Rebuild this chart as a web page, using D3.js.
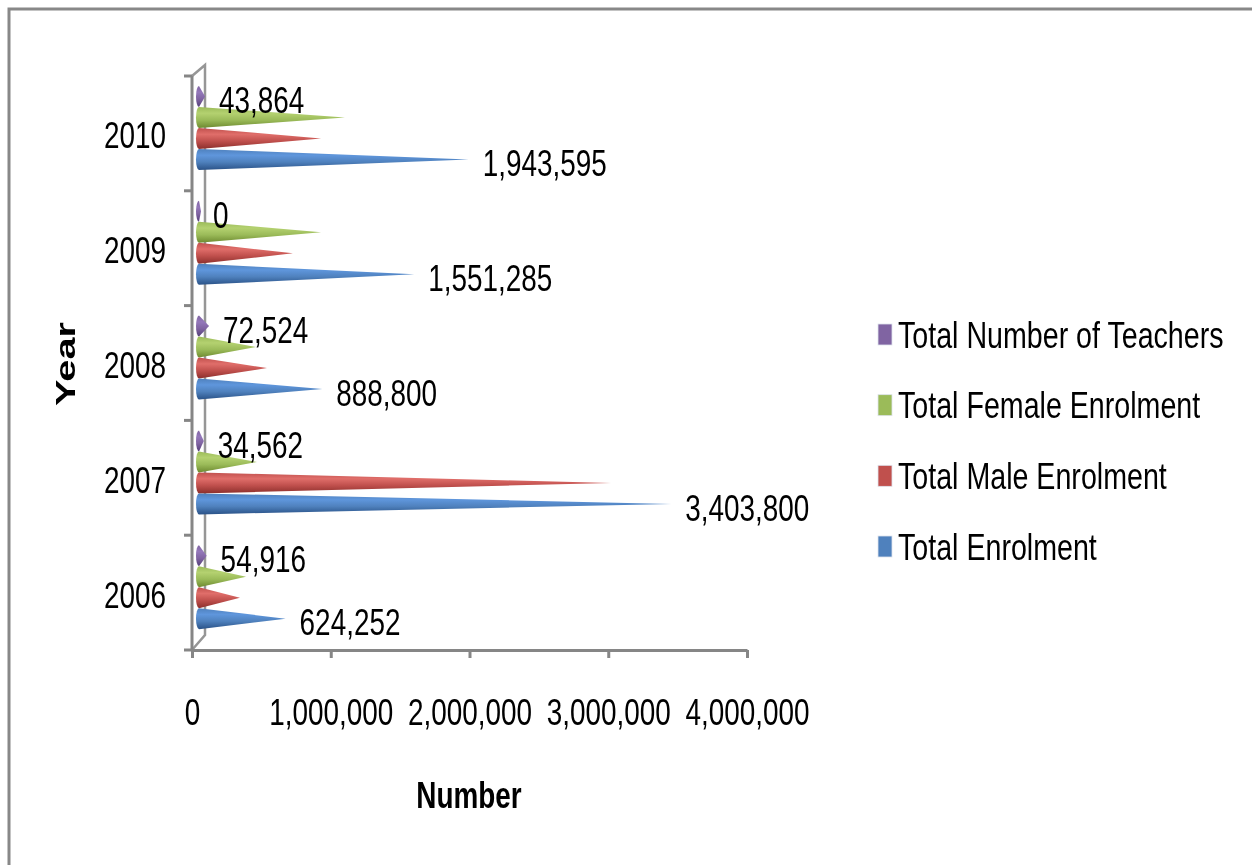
<!DOCTYPE html>
<html>
<head>
<meta charset="utf-8">
<style>
  html, body { margin: 0; padding: 0; background: #fff; overflow: hidden; }
  svg { display: block; filter: blur(0.6px); }
  text { font-family: "Liberation Sans", Arial, sans-serif; fill: #000; }
</style>
</head>
<body>
  <div id="chart"></div>
  <script src="https://d3js.org/d3.v7.min.js"></script>
  <script>
    var years = ["2010", "2009", "2008", "2007", "2006"];
    var seriesNames = ["Total Number of Teachers", "Total Female Enrolment", "Total Male Enrolment", "Total Enrolment"];
    var teachers = [43864, 0, 72524, 34562, 54916];
    var female = [1052000, 880000, 411000, 418000, 339000];
    var male = [880000, 677000, 490000, 2970000, 295000];
    var enrolment = [1943595, 1551285, 888800, 3403800, 624252];
    var xTicks = [0, 1000000, 2000000, 3000000, 4000000];
    var colors = ["#8064a2", "#9bbb59", "#c0504d", "#4f81bd"];
    var lightColors = ["#9478ba", "#b4d170", "#e06e6a", "#5f96dc"];
    var darkColors = ["#55407a", "#6d8a30", "#8c2f2c", "#2a5287"];

    var allSeries = [teachers, female, male, enrolment];
    var width = 1252, height = 865;

    var svg = d3.select("#chart").append("svg")
      .attr("width", width)
      .attr("height", height);

    // outer frame, only top and left show in the picture
    svg.append("path")
      .attr("d", "M9,865V9H1252")
      .attr("fill", "none")
      .attr("stroke", "#888")
      .attr("stroke-width", 3);

    var xScale = d3.scaleLinear().domain([0, 4000000]).range([192, 747]);
    var yScale = d3.scaleBand().domain(years).range([76, 650]);
    var seriesScale = d3.scaleBand()
      .domain(d3.range(seriesNames.length))
      .range([0, 84]);

    // squeeze the glyphs sideways, the reference was stretched
    function squeeze(k) {
      return function() {
        var t = d3.select(this);
        var x = +t.attr("x") || 0, y = +t.attr("y") || 0;
        t.attr("x", null).attr("y", null)
          .attr("transform", "translate(" + x + "," + y + ") scale(" + k + ",1)");
      };
    }

    var defs = svg.append("defs");
    seriesNames.forEach(function(name, i) {
      var grad = defs.append("linearGradient")
        .attr("id", "cone" + i)
        .attr("x1", 0).attr("y1", 0).attr("x2", 0).attr("y2", 1);
      grad.append("stop").attr("offset", "0%").attr("stop-color", colors[i]);
      grad.append("stop").attr("offset", "30%").attr("stop-color", lightColors[i]);
      grad.append("stop").attr("offset", "62%").attr("stop-color", colors[i]);
      grad.append("stop").attr("offset", "100%").attr("stop-color", darkColors[i]);
    });

    // back wall and floor edge of the 3d box
    svg.append("path")
      .attr("d", "M192," + yScale.range()[0] + "L205,65V635L192,650")
      .attr("fill", "none")
      .attr("stroke", "#969696")
      .attr("stroke-width", 2.5);

    var xAxis = svg.append("g")
      .attr("transform", "translate(0,650)")
      .call(d3.axisBottom(xScale)
        .tickValues(xTicks)
        .tickSize(8)
        .tickPadding(41)
        .tickSizeOuter(0)
        .tickFormat(d3.format(",")));

    var yAxis = svg.append("g")
      .attr("transform", "translate(192,3.5)")
      .call(d3.axisLeft(yScale).tickSize(0).tickPadding(26));
    yAxis.select(".domain").remove();

    // category ticks sit on the band edges
    svg.append("g").selectAll("line")
      .data(years.concat(["end"]))
      .enter().append("line")
      .attr("x1", 184)
      .attr("x2", 192)
      .attr("y1", function(d, i) { return 76 + i * yScale.step(); })
      .attr("y2", function(d, i) { return 76 + i * yScale.step(); })
      .attr("stroke", "#868686")
      .attr("stroke-width", 3);

    svg.append("line")
      .attr("x1", 192).attr("x2", 192)
      .attr("y1", 76).attr("y2", 650)
      .attr("stroke", "#868686")
      .attr("stroke-width", 3);

    xAxis.select(".domain").attr("stroke", "#868686").attr("stroke-width", 3);
    xAxis.selectAll(".tick line").attr("stroke", "#868686").attr("stroke-width", 3);
    svg.selectAll(".tick text").attr("font-size", 36).attr("fill", "#000");
    xAxis.attr("font-family", null);
    yAxis.attr("font-family", null);

    var depth = 4, baseRx = 3, baseRy = 10.5;

    function conePath(v, cy) {
      var bx = xScale(0) + depth + baseRx;
      var tip = Math.max(xScale(v) + depth + 3, bx + 2);
      return "M" + bx + "," + (cy - baseRy) +
        "L" + tip + "," + cy +
        "L" + bx + "," + (cy + baseRy) +
        "A" + baseRx + "," + baseRy + " 0 0 1 " + bx + "," + (cy - baseRy) + "Z";
    }

    function yCenter(yearIndex, s) {
      return yScale(years[yearIndex]) + 10 + seriesScale(s) + seriesScale.bandwidth() / 2;
    }

    allSeries.forEach(function(values, s) {
      svg.append("g").selectAll("path")
        .data(values)
        .enter().append("path")
        .attr("d", function(d, i) { return conePath(d, yCenter(i, s)); })
        .attr("fill", "url(#cone" + s + ")");
    });

    // only teachers and total enrolment carry data labels
    [0, 3].forEach(function(s) {
      svg.append("g").selectAll("text")
        .data(allSeries[s])
        .enter().append("text")
        .attr("class", "squeezed")
        .attr("x", function(d) { return xScale(d) + depth + 17; })
        .attr("y", function(d, i) { return yCenter(i, s) + 4; })
        .attr("dy", "0.35em")
        .attr("font-size", 36)
        .text(d3.format(","));
    });

    var legendRow = d3.scalePoint()
      .domain(seriesNames)
      .range([334, 546]);

    var legend = svg.append("g").selectAll("g")
      .data(seriesNames)
      .enter().append("g")
      .attr("transform", function(d) { return "translate(878," + legendRow(d) + ")"; });

    legend.append("rect")
      .attr("y", -10)
      .attr("width", 14)
      .attr("height", 21)
      .attr("fill", function(d, i) { return colors[i]; })
      .attr("stroke", "#dfe4ee")
      .attr("stroke-width", 0.8);

    legend.append("text")
      .attr("x", 20)
      .attr("y", 1)
      .attr("dy", "0.35em")
      .attr("font-size", 36)
      .text(function(d) { return d; })
      .each(squeeze(0.795));

    svg.append("text")
      .attr("class", "squeezed")
      .attr("x", 469)
      .attr("y", 795)
      .attr("dy", "0.35em")
      .attr("text-anchor", "middle")
      .attr("font-size", 36)
      .attr("font-weight", "bold")
      .text("Number");

    // the reference is stretched along the page height, so this one gets wider
    svg.append("text")
      .attr("transform", "translate(66,364) rotate(-90) scale(1.47,1)")
      .attr("dy", "0.35em")
      .attr("text-anchor", "middle")
      .attr("font-size", 27)
      .attr("font-weight", "bold")
      .text("Year");

    svg.selectAll(".tick text, .squeezed").each(squeeze(0.775));
  </script>
</body>
</html>
